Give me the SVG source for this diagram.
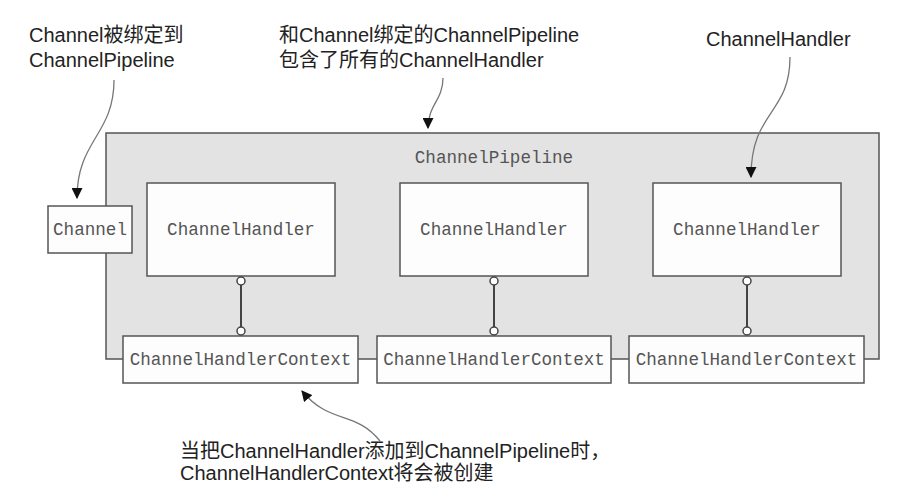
<svg xmlns="http://www.w3.org/2000/svg" width="920" height="500" viewBox="0 0 920 500">
<defs>
<style>
.box{fill:#fdfdfd;stroke:#555;stroke-width:1.5}
.pipe{fill:#e3e3e3;stroke:#555;stroke-width:1.5}
.mono{font-family:"Liberation Mono","Courier New",monospace;font-size:17.6px;fill:#555;text-anchor:middle}
.note{font-family:"Liberation Sans","Noto Sans CJK SC",sans-serif;font-size:20px;fill:#222}
.link{stroke:#444;stroke-width:2;fill:none}
.dot{fill:#fff;stroke:#444;stroke-width:1.5}
.call{fill:none;stroke:#777;stroke-width:1.3}
</style>
<marker id="ah" viewBox="0 0 10 10" refX="9" refY="5" markerWidth="11" markerHeight="11" markerUnits="userSpaceOnUse" orient="auto">
<path d="M0,0 L10,5 L0,10 Z" fill="#111"/>
</marker>
</defs>
<rect width="920" height="500" fill="#fff"/>
<g id="pipeline">
<rect class="pipe" x="106" y="133" width="773" height="226"/>
<text class="mono" x="494" y="163">ChannelPipeline</text>
</g>
<g id="channel">
<rect class="box" x="48" y="206" width="84" height="47"/>
<text class="mono" x="90" y="235">Channel</text>
</g>
<g id="handler1">
<rect class="box" x="147" y="183" width="188" height="93"/>
<text class="mono" x="241" y="235">ChannelHandler</text>
</g>
<g id="handler2">
<rect class="box" x="400" y="183" width="188" height="93"/>
<text class="mono" x="494" y="235">ChannelHandler</text>
</g>
<g id="handler3">
<rect class="box" x="653" y="183" width="188" height="93"/>
<text class="mono" x="747" y="235">ChannelHandler</text>
</g>
<g id="context1">
<rect class="box" x="123" y="336" width="235" height="47"/>
<text class="mono" x="240.5" y="365">ChannelHandlerContext</text>
</g>
<g id="context2">
<rect class="box" x="377" y="336" width="234" height="47"/>
<text class="mono" x="494" y="365">ChannelHandlerContext</text>
</g>
<g id="context3">
<rect class="box" x="629" y="336" width="235" height="47"/>
<text class="mono" x="746.5" y="365">ChannelHandlerContext</text>
</g>
<g id="connectors">
<line class="link" x1="241" y1="281" x2="241" y2="331"/>
<circle class="dot" cx="241" cy="281" r="4"/>
<circle class="dot" cx="241" cy="331" r="4"/>
<line class="link" x1="494" y1="281" x2="494" y2="331"/>
<circle class="dot" cx="494" cy="281" r="4"/>
<circle class="dot" cx="494" cy="331" r="4"/>
<line class="link" x1="747" y1="281" x2="747" y2="331"/>
<circle class="dot" cx="747" cy="281" r="4"/>
<circle class="dot" cx="747" cy="331" r="4"/>
<path class="call" d="M114,80 C114,135 77,140 77,198" marker-end="url(#ah)"/>
<path class="call" d="M443,78 C443,100 428,105 428,128" marker-end="url(#ah)"/>
<path class="call" d="M790,57 C790,115 751,110 751,177" marker-end="url(#ah)"/>
<path class="call" d="M380,441 C355,410 330,425 302,391" marker-end="url(#ah)"/>
</g>
<g id="notes">
<text class="note" x="29" y="42">Channel被绑定到</text>
<text class="note" x="29" y="67">ChannelPipeline</text>
<text class="note" x="279" y="42">和Channel绑定的ChannelPipeline</text>
<text class="note" x="279" y="67">包含了所有的ChannelHandler</text>
<text class="note" x="706" y="46">ChannelHandler</text>
<text class="note" x="180" y="458">当把ChannelHandler添加到ChannelPipeline时，</text>
<text class="note" x="180" y="480">ChannelHandlerContext将会被创建</text>
</g>
</svg>
